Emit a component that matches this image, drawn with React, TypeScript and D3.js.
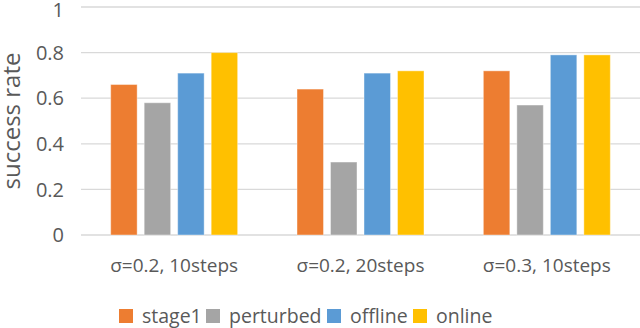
import React from "react";
import * as d3 from "d3";

const categories = ["σ=0.2, 10steps", "σ=0.2, 20steps", "σ=0.3, 10steps"];
const seriesNames = ["stage1", "perturbed", "offline", "online"];
const stage1 = [0.66, 0.64, 0.72];
const perturbed = [0.58, 0.32, 0.57];
const offline = [0.71, 0.71, 0.79];
const online = [0.8, 0.72, 0.79];
const yTicks = [0, 0.2, 0.4, 0.6, 0.8, 1];
const colors = ["#ED7D31", "#A5A5A5", "#5B9BD5", "#FFC000"];

const W = 640;
const H = 328;
const FONT = "'Open Sans', 'Noto Sans', sans-serif";
const TXT = "#595959";

export default function App() {
  const series = [stage1, perturbed, offline, online];
  const x = d3.scaleBand<string>().domain(categories).range([81, 640]).paddingInner(0).paddingOuter(0);
  const inner = d3
    .scaleBand<string>()
    .domain(seriesNames)
    .range([(x.bandwidth() - 134) / 2, (x.bandwidth() + 134) / 2])
    .paddingInner(0.21)
    .paddingOuter(0.105);
  const y = d3.scaleLinear().domain([0, 1]).range([235, 7]);
  const legendX = [119, 206, 327, 413];

  return (
    <svg
      width={W}
      height={H}
      style={{ position: "absolute", left: 0, top: 0, background: "#fff" }}
      fontFamily={FONT}
    >
      {yTicks.map((t) => (
        <g key={t}>
          <line x1={81} x2={640} y1={y(t)} y2={y(t)} stroke="#D9D9D9" strokeWidth={1.3} />
          <text
            x={64}
            y={Math.max(y(t), 10)}
            dy="0.36em"
            textAnchor="end"
            fontSize={20}
            fill={TXT}
          >
            {t === 0 || t === 1 ? String(t) : t.toFixed(1)}
          </text>
        </g>
      ))}
      <text
        transform={`translate(${20},${121}) rotate(-90)`}
        textAnchor="middle"
        fontSize={24}
        fill={TXT}
      >
        success rate
      </text>
      {categories.map((c, ci) => (
        <g key={c} transform={`translate(${x(c)},0)`}>
          {series.map((s, si) => (
            <rect
              key={si}
              x={inner(seriesNames[si])}
              y={y(s[ci])}
              width={inner.bandwidth()}
              height={y(0) - y(s[ci])}
              fill={colors[si]}
              stroke="#fff"
              strokeOpacity={0.4}
              strokeWidth={1}
            />
          ))}
          <text
            x={x.bandwidth() / 2}
            y={272}
            textAnchor="middle"
            fontSize={19}
            fill={TXT}
          >
            {c}
          </text>
        </g>
      ))}
      {seriesNames.map((n, i) => (
        <g key={n}>
          <rect x={legendX[i]} y={309} width={14} height={14} fill={colors[i]} />
          <text x={legendX[i] + 23} y={316} dy="0.35em" fontSize={19.5} fill={TXT}>
            {n}
          </text>
        </g>
      ))}
    </svg>
  );
}
